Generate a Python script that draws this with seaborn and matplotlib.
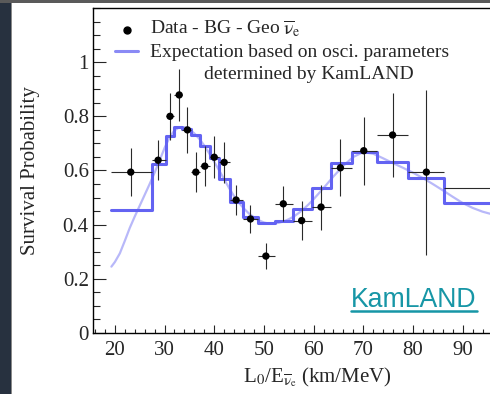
import numpy as np
import pandas as pd
import seaborn as sns
import matplotlib
matplotlib.use("Agg")
import matplotlib.pyplot as plt
from matplotlib.patches import Rectangle
from matplotlib.lines import Line2D
from matplotlib.ticker import FixedLocator, MultipleLocator

# ---- measured survival probability (data - background - geo antineutrinos)
l_over_e = [23.2, 28.7, 31.1, 32.95, 34.6, 36.3, 38.1, 40.0, 42.0, 44.4,
            47.3, 50.4, 53.9, 57.6, 61.5, 65.4, 70.1, 75.9, 82.7, 98.0]
survival = [0.594, 0.638, 0.800, 0.879, 0.750, 0.594, 0.616, 0.649, 0.630, 0.491,
            0.421, 0.284, 0.477, 0.415, 0.465, 0.610, 0.673, 0.731, 0.594, 0.535]
survival_err = [0.090, 0.073, 0.087, 0.097, 0.086, 0.075, 0.075, 0.077, 0.076, 0.057,
                0.053, 0.048, 0.065, 0.072, 0.083, 0.105, 0.125, 0.156, 0.305, 0.350]

# ---- bin edges shared by the data and the binned expectation
bin_edges = [19.3, 27.4, 30.2, 31.95, 33.6, 35.4, 37.1, 39.1, 40.9, 43.2, 45.8,
             48.9, 52.2, 55.8, 59.6, 63.5, 67.7, 72.7, 79.1, 86.3, 109.7]
expect_binned = [0.455, 0.625, 0.727, 0.762, 0.753, 0.732, 0.691, 0.646, 0.570, 0.484,
                 0.430, 0.405, 0.412, 0.458, 0.535, 0.627, 0.670, 0.630, 0.572, 0.480]

# ---- unbinned expectation curve
curve_x = [19.3, 20, 21, 22, 23, 24, 25, 26, 27, 28, 29, 30, 31, 32, 33, 34, 35, 36,
           37, 38, 39, 40, 41, 42, 43, 44, 45, 46, 47, 48, 49, 50, 51, 52, 53, 54,
           55, 56, 57, 58, 59, 60, 62, 64, 66, 68, 70, 72, 74, 76, 78, 80, 82, 84,
           86, 88, 90, 92, 94, 96, 100, 105, 110]
curve_y = [0.245, 0.262, 0.294, 0.340, 0.388, 0.430, 0.470, 0.510, 0.550, 0.592,
           0.637, 0.683, 0.722, 0.748, 0.760, 0.760, 0.752, 0.737, 0.717, 0.692,
           0.663, 0.632, 0.600, 0.568, 0.535, 0.505, 0.480, 0.459, 0.441, 0.427,
           0.416, 0.408, 0.404, 0.404, 0.407, 0.412, 0.420, 0.430, 0.443, 0.458,
           0.475, 0.494, 0.535, 0.578, 0.618, 0.650, 0.668, 0.662, 0.645, 0.627,
           0.610, 0.592, 0.572, 0.550, 0.527, 0.503, 0.480, 0.462, 0.448, 0.438,
           0.425, 0.418, 0.415]

y_major = [0, 0.2, 0.4, 0.6, 0.8, 1.0]
y_labels = ["0", "0.2", "0.4", "0.6", "0.8", "1"]
x_major = [20, 30, 40, 50, 60, 70, 80, 90]
x_labels = ["20", "30", "40", "50", "60", "70", "80", "90"]

sns.set_style("ticks")
plt.rcParams["font.family"] = ["Liberation Serif", "DejaVu Serif"]
plt.rcParams["mathtext.fontset"] = "stix"

W, H = 490, 394
fig = plt.figure(figsize=(W / 100, H / 100), dpi=100, facecolor="#27313f")

# slide backdrop: dark strip on the left, grey bar on top, white panel
for rect in [
    Rectangle((12 / W, 0), 1, (H - 3) / H, facecolor="white"),
    Rectangle((0, (H - 3) / H), 1, 3 / H, facecolor="#5a5a5a"),
    Rectangle((10.5 / W, 0), 1.5 / W, (H - 3) / H, facecolor="#8a8a8a"),
]:
    rect.set_transform(fig.transFigure)
    rect.set_edgecolor("none")
    rect.set_zorder(-5)
    fig.patches.append(rect)

ax_l, ax_r, ax_t, ax_b = 93, 562, 8, 333
ax = fig.add_axes([ax_l / W, (H - ax_b) / H, (ax_r - ax_l) / W, (ax_b - ax_t) / H])
ax.set_facecolor("none")
ax.set_xlim(15.6, 110)
ax.set_ylim(0, 1.2)

blue = "#6363f2"

# unbinned expectation
curve = pd.DataFrame({"x": curve_x, "y": curve_y})
sns.lineplot(data=curve, x="x", y="y", ax=ax, color=blue, alpha=0.45, lw=1.6,
             estimator=None, sort=False, zorder=2)

# binned expectation as a step line
steps = pd.DataFrame({"x": bin_edges, "y": expect_binned + [expect_binned[-1]]})
sns.lineplot(data=steps, x="x", y="y", ax=ax, color=blue, lw=2.2,
             drawstyle="steps-post", estimator=None, sort=False, zorder=3)

# data points with bin-width and statistical error bars
edges = np.array(bin_edges)
xc = np.array(l_over_e)
xerr = [xc - edges[:-1], edges[1:] - xc]
ax.errorbar(xc, survival, xerr=xerr, yerr=survival_err, fmt="none",
            ecolor="#2a2a2a", elinewidth=0.8, capsize=0, zorder=4)
pts = pd.DataFrame({"x": l_over_e, "y": survival})
sns.scatterplot(data=pts, x="x", y="y", ax=ax, color="black", s=28,
                edgecolor="none", zorder=5)

# axes styling
for side in ["top", "left", "bottom", "right"]:
    ax.spines[side].set_linewidth(1.0)
    ax.spines[side].set_color("black")
ax.yaxis.set_major_locator(FixedLocator(y_major))
ax.set_yticklabels(y_labels)
ax.yaxis.set_minor_locator(MultipleLocator(0.05))
ax.xaxis.set_major_locator(FixedLocator(x_major))
ax.set_xticklabels(x_labels)
ax.xaxis.set_minor_locator(MultipleLocator(2))
ax.tick_params(axis="y", which="major", direction="in", length=9.5, width=0.8,
               labelsize=15, pad=3, left=True, right=False)
ax.tick_params(axis="y", which="minor", direction="in", length=5, width=0.8,
               left=True, right=False)
ax.tick_params(axis="x", which="major", direction="in", length=6, width=0.8,
               labelsize=15, pad=6, bottom=True, top=False)
ax.tick_params(axis="x", which="minor", direction="in", length=3, width=0.8,
               bottom=True, top=False)

ax.set_ylabel("Survival Probability", fontsize=15)
ax.yaxis.set_label_coords((40 - ax_l) / (ax_r - ax_l), 0.5)
ax.set_xlabel(r"L$_0$/E$_{\overline{\mathrm{\nu}}_{\rm e}}$ (km/MeV)", fontsize=15)
ax.xaxis.set_label_coords((317 - ax_l) / (ax_r - ax_l), (ax_b - 366) / (ax_b - ax_t))


def axfrac(px, py):
    return (px - ax_l) / (ax_r - ax_l), (ax_b - py) / (ax_b - ax_t)


# legend block
mx, my = axfrac(127, 30)
ax.plot([mx], [my], "o", color="black", ms=5, transform=ax.transAxes, clip_on=False)
x0, ly = axfrac(115, 51)
x1, _ = axfrac(138, 51)
ax.add_line(Line2D([x0, x1], [ly, ly], color=blue, lw=2.2, alpha=0.75,
                   transform=ax.transAxes))
tx, ty = axfrac(150, 34.5)
ax.text(tx, ty, r"Data - BG - Geo $\overline{\mathrm{\nu}}_{\rm e}$", fontsize=14,
        transform=ax.transAxes, va="baseline", ha="left")
tx, ty = axfrac(150, 57)
ax.text(tx, ty, "Expectation based on osci. parameters", fontsize=14,
        transform=ax.transAxes, va="baseline", ha="left")
tx, ty = axfrac(204, 79)
ax.text(tx, ty, "determined by KamLAND", fontsize=14,
        transform=ax.transAxes, va="baseline", ha="left")

# experiment tag
teal = "#1796a6"
kx, ky = axfrac(351, 307)
ax.text(kx, ky, "KamLAND", fontsize=19.2, family="Liberation Sans", color=teal,
        transform=ax.transAxes, va="baseline", ha="left")
ux0, uy = axfrac(351, 310.5)
ux1, _ = axfrac(477, 310.5)
ax.add_line(Line2D([ux0, ux1], [uy, uy], color=teal, lw=1.8, transform=ax.transAxes))

fig.savefig("out.png", dpi=100, facecolor=fig.get_facecolor())
